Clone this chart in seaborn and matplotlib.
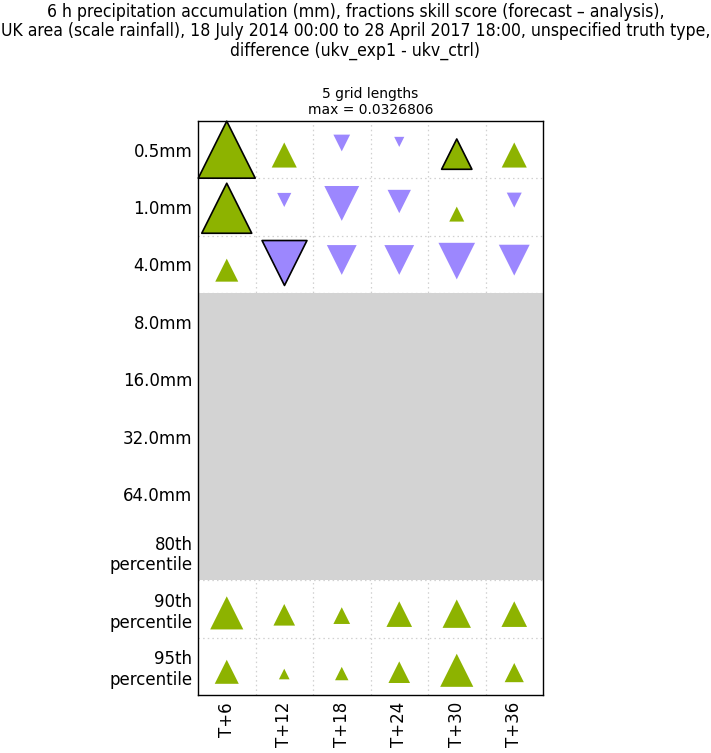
import numpy as np
import pandas as pd
import matplotlib
matplotlib.use("Agg")
import matplotlib.pyplot as plt
from matplotlib.path import Path
from matplotlib.transforms import offset_copy
import seaborn as sns

# ---- data ----
lead_times = ["T+6", "T+12", "T+18", "T+24", "T+30", "T+36"]
thresholds = ["0.5mm", "1.0mm", "4.0mm", "8.0mm", "16.0mm", "32.0mm",
              "64.0mm", "80th\npercentile", "90th\npercentile", "95th\npercentile"]
diff_0p5mm = [0.0327, 0.0144, -0.0096, -0.0058, 0.0174, 0.0144]
diff_1p0mm = [0.0287, -0.0081, -0.0200, -0.0134, 0.0086, -0.0086]
diff_4p0mm = [0.0132, -0.0258, -0.0171, -0.0171, -0.0210, -0.0177]
diff_90th = [0.0190, 0.0124, 0.0096, 0.0147, 0.0163, 0.0147]
diff_95th = [0.0138, 0.0061, 0.0077, 0.0124, 0.0190, 0.0110]
missing_rows = ["8.0mm", "16.0mm", "32.0mm", "64.0mm", "80th\npercentile"]
significant = [("0.5mm", "T+6"), ("0.5mm", "T+30"), ("1.0mm", "T+6"), ("4.0mm", "T+12")]
max_value = 0.0326806

rows = {"0.5mm": diff_0p5mm, "1.0mm": diff_1p0mm, "4.0mm": diff_4p0mm,
        "90th\npercentile": diff_90th, "95th\npercentile": diff_95th}
recs = []
for thr, vals in rows.items():
    for lt, v in zip(lead_times, vals):
        recs.append(dict(threshold=thr, lead=lt, value=v,
                         x=lead_times.index(lt), y=thresholds.index(thr),
                         sig=(thr, lt) in significant))
df = pd.DataFrame(recs)

GREEN = "#8db300"
PURPLE = "#9c87fe"
MAX_H = 41.0  # triangle height (points) for the max value

# triangles defined around their centroid (scaled about the centroid)
codes = [Path.MOVETO, Path.LINETO, Path.LINETO, Path.CLOSEPOLY]
UP = Path([(0, 2 / 3), (-0.5, -1 / 3), (0.5, -1 / 3), (0, 2 / 3)], codes)
DOWN = Path([(0, -2 / 3), (-0.5, 1 / 3), (0.5, 1 / 3), (0, -2 / 3)], codes)
# custom markers are normalised so max |vertex| = 0.5*ms -> height = 0.75*ms
df["s"] = (MAX_H / 0.75 * df["value"].abs() / max_value) ** 2

sns.set_theme(style="white")
plt.rcParams["font.family"] = ["DejaVu Sans"]
plt.rcParams["text.color"] = "black"
plt.rcParams["xtick.color"] = "black"
plt.rcParams["ytick.color"] = "black"

fig = plt.figure(figsize=(7.11, 7.53), dpi=100)
ax = fig.add_axes([198 / 711, 1 - 695 / 753, 345 / 711, 574 / 753])

# grid lines at cell borders
for xb in np.arange(0.5, len(lead_times) - 0.5, 1):
    ax.axvline(xb, color="#d0d0d0", ls=(0, (1.2, 2.5)), lw=0.9, zorder=1)
for yb in np.arange(0.5, len(thresholds) - 0.5, 1):
    ax.axhline(yb, color="#d0d0d0", ls=(0, (1.2, 2.5)), lw=0.9, zorder=1)

# missing data region
ys_missing = [thresholds.index(r) for r in missing_rows]
ax.axhspan(min(ys_missing) - 0.5, max(ys_missing) + 0.5, color="#d3d3d3", lw=0, zorder=2)

for up, marker, col in [(True, UP, GREEN), (False, DOWN, PURPLE)]:
    # centroid of the full-size triangle sits H/6 off the cell centre
    tr = offset_copy(ax.transData, fig=fig, x=0, y=(-MAX_H / 6 if up else MAX_H / 6),
                     units="points")
    for sig in [False, True]:
        sub = df[(df["value"] > 0) == up]
        sub = sub[sub["sig"] == sig]
        if len(sub) == 0:
            continue
        sns.scatterplot(data=sub, x="x", y="y", marker=marker, s=sub["s"].values,
                        color=col, edgecolor="black" if sig else "none",
                        linewidth=1.2 if sig else 0, ax=ax, zorder=3,
                        legend=False, clip_on=False, transform=tr)

ax.set_xlim(-0.5, len(lead_times) - 0.5)
ax.set_ylim(len(thresholds) - 0.5, -0.5)
ax.set_xticks(range(len(lead_times)))
ax.set_xticklabels(lead_times, rotation=90, fontsize=12)
ax.set_yticks(range(len(thresholds)))
ax.set_yticklabels(thresholds, fontsize=12, ha="right")
ax.set_xlabel("")
ax.set_ylabel("")
ax.tick_params(axis="y", length=0, pad=4)
ax.tick_params(axis="x", length=0, pad=5)
for sp in ax.spines.values():
    sp.set_color("black")
    sp.set_linewidth(1.0)
    sp.set_zorder(5)

ax.set_title(f"5 grid lengths\nmax = {max_value}", fontsize=10, pad=5, color="black")

fig.text(0.5, 1 - 3 / 753,
         "6 h precipitation accumulation (mm), fractions skill score (forecast \u2013 analysis),\n"
         "UK area (scale rainfall), 18 July 2014 00:00 to 28 April 2017 18:00, unspecified truth type,\n"
         "difference (ukv_exp1 - ukv_ctrl)",
         ha="center", va="top", fontsize=12.6, fontstretch="condensed", linespacing=1.08,
         color="black")

fig.savefig("out.png", dpi=100)
